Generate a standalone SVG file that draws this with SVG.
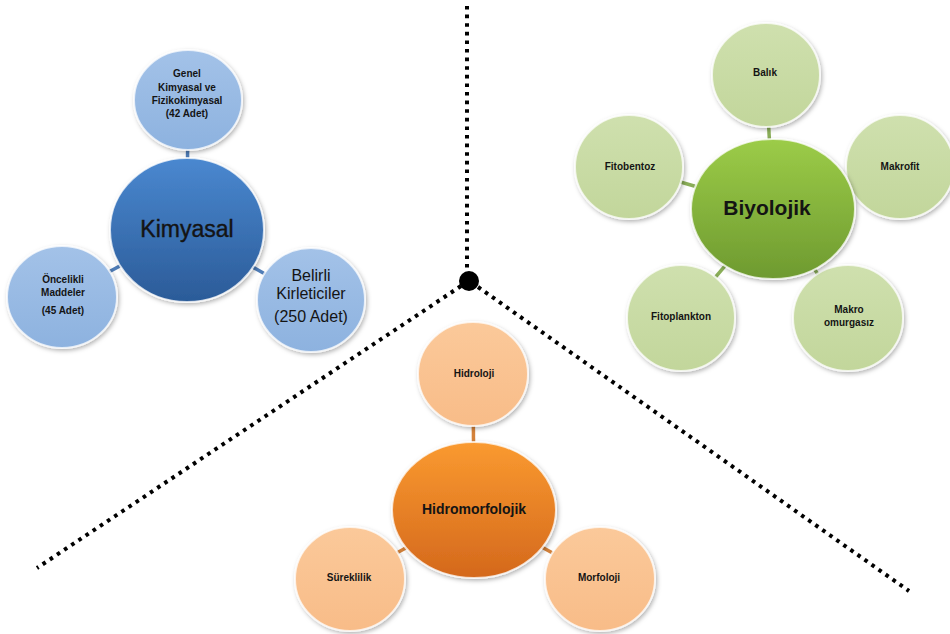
<svg xmlns="http://www.w3.org/2000/svg" width="950" height="634" viewBox="0 0 950 634">
<defs>
<filter id="sh" x="-20%" y="-20%" width="140%" height="140%"><feDropShadow dx="1.5" dy="2" stdDeviation="2" flood-color="#000" flood-opacity="0.3"/></filter>
<linearGradient id="gBlue" x1="0" y1="0" x2="0" y2="1"><stop offset="0" stop-color="#4a88d0"/><stop offset="1" stop-color="#2b5b98"/></linearGradient>
<linearGradient id="gBlueL" x1="0" y1="0" x2="0" y2="1"><stop offset="0" stop-color="#a3c2e8"/><stop offset="1" stop-color="#8db2df"/></linearGradient>
<linearGradient id="gGreen" x1="0" y1="0" x2="0" y2="1"><stop offset="0" stop-color="#9ccc48"/><stop offset="1" stop-color="#6e9a30"/></linearGradient>
<linearGradient id="gGreenL" x1="0" y1="0" x2="0" y2="1"><stop offset="0" stop-color="#cfe0ae"/><stop offset="1" stop-color="#c2d69b"/></linearGradient>
<linearGradient id="gOrange" x1="0" y1="0" x2="0" y2="1"><stop offset="0" stop-color="#fa9a30"/><stop offset="1" stop-color="#d4681c"/></linearGradient>
<linearGradient id="gOrangeL" x1="0" y1="0" x2="0" y2="1"><stop offset="0" stop-color="#fbc99a"/><stop offset="1" stop-color="#f8bc88"/></linearGradient>
</defs>
<style>
.dot{fill:none;stroke:#000;stroke-width:4;stroke-dasharray:3.6 5}
.c{stroke:#fff;stroke-opacity:0.75;stroke-width:2;filter:url(#sh)}
.t{font-family:"Liberation Sans",Arial,sans-serif;fill:#141414;text-anchor:middle}
.s{font-size:10px;font-weight:bold}
.lb{stroke:#4f7db8;stroke-width:3.5}
.lg{stroke:#8aae58;stroke-width:3.5}
.lo{stroke:#d4823a;stroke-width:3.5}
</style>

<g id="dividers">
<line class="dot" x1="467" y1="6" x2="467" y2="270"/>
<line class="dot" x1="461" y1="286" x2="37" y2="568"/>
<line class="dot" x1="478" y1="287" x2="909" y2="591"/>
<circle cx="469" cy="281" r="10" fill="#000"/>
</g>

<g id="connectors">
<line class="lb" x1="188" y1="100" x2="187" y2="230"/>
<line class="lb" x1="62" y1="297" x2="187" y2="230"/>
<line class="lb" x1="311" y1="300" x2="187" y2="230"/>
<line class="lg" x1="766" y1="75" x2="773" y2="209"/>
<line class="lg" x1="629" y1="167" x2="773" y2="209"/>
<line class="lg" x1="899" y1="167" x2="773" y2="209"/>
<line class="lg" x1="681" y1="318" x2="773" y2="209"/>
<line class="lg" x1="848" y1="318" x2="773" y2="209"/>
<line class="lo" x1="473" y1="374" x2="474" y2="510"/>
<line class="lo" x1="350" y1="579" x2="474" y2="510"/>
<line class="lo" x1="600" y1="579" x2="474" y2="510"/>
</g>

<g id="genel">
<ellipse class="c" cx="188" cy="100" rx="54" ry="50" fill="url(#gBlueL)"/>
<text class="t s" x="187" y="77">Genel</text>
<text class="t s" x="187" y="91">Kimyasal ve</text>
<text class="t s" x="187" y="104">Fizikokimyasal</text>
<text class="t s" x="187" y="117">(42 Adet)</text>
</g>
<g id="oncelikli">
<ellipse class="c" cx="62" cy="297" rx="55" ry="51" fill="url(#gBlueL)"/>
<text class="t s" x="63" y="283">Öncelikli</text>
<text class="t s" x="63" y="296">Maddeler</text>
<text class="t s" x="63" y="314">(45 Adet)</text>
</g>
<g id="belirli">
<ellipse class="c" cx="311" cy="300" rx="54" ry="52" fill="url(#gBlueL)"/>
<text class="t" x="311" y="281" font-size="16">Belirli</text>
<text class="t" x="311" y="299" font-size="16">Kirleticiler</text>
<text class="t" x="311" y="322" font-size="16">(250 Adet)</text>
</g>
<g id="kimyasal">
<ellipse class="c" cx="187" cy="230" rx="77" ry="72" fill="url(#gBlue)"/>
<text class="t" x="187" y="237" font-size="23" stroke="#141414" stroke-width="0.4">Kimyasal</text>
</g>

<g id="balik">
<ellipse class="c" cx="766" cy="75" rx="54" ry="52" fill="url(#gGreenL)"/>
<text class="t s" x="765" y="76">Balık</text>
</g>
<g id="fitobentoz">
<ellipse class="c" cx="629" cy="167" rx="54" ry="52" fill="url(#gGreenL)"/>
<text class="t s" x="630" y="170">Fitobentoz</text>
</g>
<g id="makrofit">
<ellipse class="c" cx="900" cy="167" rx="54" ry="52" fill="url(#gGreenL)"/>
<text class="t s" x="900" y="170">Makrofit</text>
</g>
<g id="fitoplankton">
<ellipse class="c" cx="681" cy="318" rx="54" ry="53" fill="url(#gGreenL)"/>
<text class="t s" x="681" y="320">Fitoplankton</text>
</g>
<g id="makro">
<ellipse class="c" cx="848" cy="318" rx="55" ry="53" fill="url(#gGreenL)"/>
<text class="t s" x="849" y="313">Makro</text>
<text class="t s" x="849" y="326">omurgasız</text>
</g>
<g id="biyolojik">
<ellipse class="c" cx="773" cy="209" rx="82" ry="70" fill="url(#gGreen)"/>
<text class="t" x="767" y="215" font-size="21" font-weight="bold">Biyolojik</text>
</g>

<g id="hidroloji">
<ellipse class="c" cx="473" cy="374" rx="55" ry="52" fill="url(#gOrangeL)"/>
<text class="t s" x="474" y="377">Hidroloji</text>
</g>
<g id="sureklilik">
<ellipse class="c" cx="350" cy="579" rx="55" ry="52" fill="url(#gOrangeL)"/>
<text class="t s" x="349" y="581">Süreklilik</text>
</g>
<g id="morfoloji">
<ellipse class="c" cx="600" cy="579" rx="55" ry="52" fill="url(#gOrangeL)"/>
<text class="t s" x="599" y="581">Morfoloji</text>
</g>
<g id="hidromorfolojik">
<ellipse class="c" cx="474" cy="510" rx="82" ry="68" fill="url(#gOrange)"/>
<text class="t" x="474" y="514" font-size="14" font-weight="bold">Hidromorfolojik</text>
</g>
</svg>
